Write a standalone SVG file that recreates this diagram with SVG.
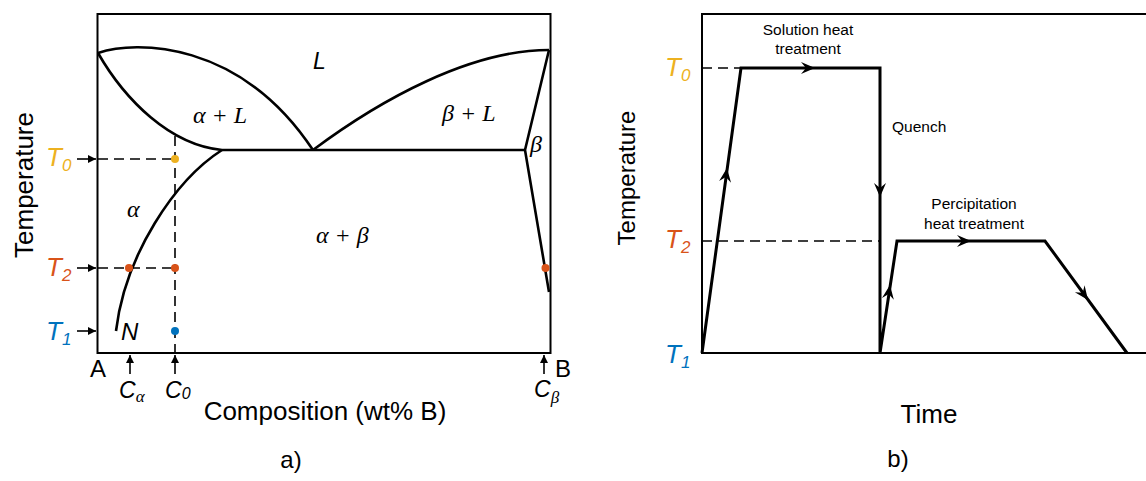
<svg xmlns="http://www.w3.org/2000/svg" width="1146" height="481" viewBox="0 0 1146 481">
<style>
.sans{font-family:"Liberation Sans",Arial,sans-serif;fill:#000}
.it{font-style:italic}
.serif{font-family:"Liberation Serif","Times New Roman",serif;font-style:italic;fill:#000}
.frame{fill:none;stroke:#000;stroke-width:2}
.curve{fill:none;stroke:#000;stroke-width:2.6;stroke-linejoin:round}
.proc{fill:none;stroke:#000;stroke-width:3;stroke-linejoin:miter}
.dash{fill:none;stroke:#000;stroke-width:1.6;stroke-dasharray:10 6}
.ptr{fill:none;stroke:#000;stroke-width:1.6}
.y{fill:#EDB120}.o{fill:#D95319}.b{fill:#0072BD}
</style>
<defs>
<marker id="ah" viewBox="0 0 10 10" refX="10" refY="5" markerWidth="5" markerHeight="5" orient="auto" markerUnits="strokeWidth">
<path d="M0,0 L10,5 L0,10 Z" fill="#000"/>
</marker>
<path id="stealth" d="M0,0 L-14,-6 L-9,0 L-14,6 Z" fill="#000"/>
</defs>

<g id="panel-a">
<rect class="frame" x="97.5" y="14" width="453" height="339"/>
<g id="phase-boundaries">
<path class="curve" d="M98,53 C135,40 240,40 313,150"/>
<path class="curve" d="M98,53 C125,100 170,145 222,150"/>
<path class="curve" d="M222,150 L525,150"/>
<path class="curve" d="M313,150 C380,100 470,50 549,50"/>
<path class="curve" d="M549,50 L525,150 L549,292"/>
<path class="curve" d="M222,150 C175,180 125,255 116,331"/>
</g>
<g id="guides">
<path class="dash" d="M98,159 H175"/>
<path class="dash" d="M98,268 H175"/>
<path class="dash" d="M175,136 V353"/>
<path class="ptr" d="M77,159 H96" marker-end="url(#ah)"/>
<path class="ptr" d="M77,268 H96" marker-end="url(#ah)"/>
<path class="ptr" d="M77,331 H96" marker-end="url(#ah)"/>
<path class="ptr" d="M130,374 V355" marker-end="url(#ah)"/>
<path class="ptr" d="M175,374 V355" marker-end="url(#ah)"/>
<path class="ptr" d="M544,374 V355" marker-end="url(#ah)"/>
</g>
<g id="points">
<circle class="y" cx="175" cy="159" r="4"/>
<circle class="o" cx="129" cy="268" r="4"/>
<circle class="o" cx="175" cy="268" r="4"/>
<circle class="o" cx="545.5" cy="268" r="4"/>
<circle class="b" cx="175" cy="331" r="4"/>
</g>
<g id="labels-a">
<text class="sans it" x="313" y="69" font-size="23">L</text>
<text class="serif" x="193" y="123" font-size="24">α + L</text>
<text class="serif" x="442" y="121" font-size="24">β + L</text>
<text class="serif" x="530" y="152" font-size="24">β</text>
<text class="serif" x="127" y="217" font-size="24">α</text>
<text class="serif" x="316" y="243" font-size="24">α + β</text>
<text class="sans it" x="121" y="340" font-size="24">N</text>
<text class="sans it y" x="46" y="166" font-size="26">T<tspan font-size="17" dy="5">0</tspan></text>
<text class="sans it o" x="46" y="276" font-size="26">T<tspan font-size="17" dy="5">2</tspan></text>
<text class="sans it b" x="46" y="340" font-size="26">T<tspan font-size="17" dy="5">1</tspan></text>
<text class="sans" x="98" y="377" font-size="24" text-anchor="middle">A</text>
<text class="sans" x="555" y="377" font-size="24">B</text>
<text class="sans it" x="119" y="398" font-size="23">C<tspan class="serif" font-size="17" dy="4">α</tspan></text>
<text class="sans it" x="165" y="398" font-size="23">C<tspan font-size="16" dy="1">0</tspan></text>
<text class="sans it" x="534" y="397" font-size="23">C<tspan class="serif" font-size="17" dy="6">β</tspan></text>
<text class="sans" x="33" y="185" font-size="26" text-anchor="middle" transform="rotate(-90 33 185)">Temperature</text>
<text class="sans" x="325" y="420" font-size="26" text-anchor="middle">Composition (wt% B)</text>
<text class="sans" x="291" y="468" font-size="24" text-anchor="middle">a)</text>
</g>
</g>

<g id="panel-b">
<path class="frame" d="M1146,14 H702 V353 H1146"/>
<path class="dash" d="M702,68 H741"/>
<path class="dash" d="M702,241 H880"/>
<g id="connectors">
<path class="proc" d="M702,353 L741,68 L880,68 L880,353 L897,241 L1045,241 L1127,353"/>
<use href="#stealth" transform="translate(727,168) rotate(-82.2)"/>
<use href="#stealth" transform="translate(815,68)"/>
<use href="#stealth" transform="translate(880,197) rotate(90)"/>
<use href="#stealth" transform="translate(890,285) rotate(-81.4)"/>
<use href="#stealth" transform="translate(971,241)"/>
<use href="#stealth" transform="translate(1088,300) rotate(53.8)"/>
</g>
<g id="labels-b">
<text class="sans" x="808" y="35" font-size="15.5" text-anchor="middle">Solution heat</text>
<text class="sans" x="808" y="54" font-size="15.5" text-anchor="middle">treatment</text>
<text class="sans" x="892" y="132" font-size="15.5">Quench</text>
<text class="sans" x="974" y="209" font-size="15.5" text-anchor="middle">Percipitation</text>
<text class="sans" x="974" y="229" font-size="15.5" text-anchor="middle">heat treatment</text>
<text class="sans it y" x="665" y="76" font-size="26">T<tspan font-size="17" dy="5">0</tspan></text>
<text class="sans it o" x="665" y="248" font-size="26">T<tspan font-size="17" dy="5">2</tspan></text>
<text class="sans it b" x="665" y="363" font-size="26">T<tspan font-size="17" dy="5">1</tspan></text>
<text class="sans" x="635" y="178" font-size="24" text-anchor="middle" transform="rotate(-90 635 178)">Temperature</text>
<text class="sans" x="929" y="423" font-size="26" text-anchor="middle">Time</text>
<text class="sans" x="898" y="467" font-size="24" text-anchor="middle">b)</text>
</g>
</g>
</svg>
